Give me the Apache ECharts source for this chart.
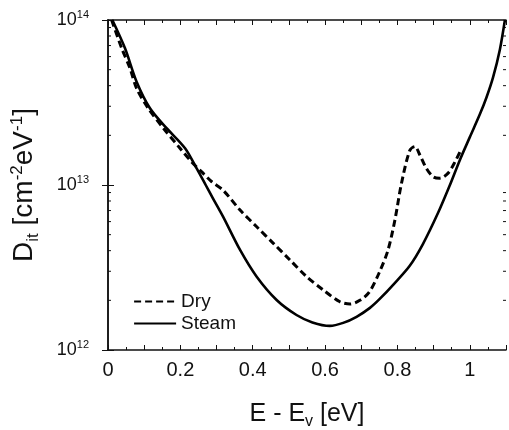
<!DOCTYPE html>
<html>
<head>
<meta charset="utf-8">
<script src="https://cdn.jsdelivr.net/npm/echarts@6/dist/echarts.min.js"></script>
<style>
  html, body { margin: 0; padding: 0; background: #fff; }
  #chart { width: 509px; height: 430px; }
</style>
</head>
<body>
<div id="chart"></div>
<script>
// Interface trap density vs. energy above the valence band edge
const seriesNames = ['Dry', 'Steam'];

const energyDry = [0.010, 0.038, 0.061, 0.079, 0.111, 0.153, 0.199, 0.231, 0.259, 0.286, 0.318, 0.365, 0.411, 0.457, 0.503, 0.549, 0.595, 0.641, 0.669, 0.696, 0.722, 0.751, 0.774, 0.793, 0.811, 0.834, 0.848, 0.862, 0.880, 0.899, 0.917, 0.940, 0.959, 0.977];
const ditDry = [1.0e14, 6.73e13, 5.09e13, 3.85e13, 2.92e13, 2.21e13, 1.67e13, 1.38e13, 1.2e13, 1.05e13, 9.3e12, 7.05e12, 5.58e12, 4.43e12, 3.51e12, 2.78e12, 2.31e12, 1.96e12, 1.9e12, 2.0e12, 2.24e12, 2.99e12, 4.04e12, 6.14e12, 1.02e13, 1.62e13, 1.71e13, 1.52e13, 1.26e13, 1.12e13, 1.1e13, 1.18e13, 1.38e13, 1.66e13];

const energySteam = [0.012, 0.047, 0.079, 0.116, 0.162, 0.213, 0.245, 0.27, 0.29, 0.318, 0.365, 0.411, 0.466, 0.521, 0.565, 0.613, 0.65, 0.687, 0.724, 0.751, 0.79, 0.834, 0.87, 0.912, 0.945, 0.972, 1.0, 1.028, 1.046, 1.064, 1.083, 1.097];
const ditSteam = [1.0e14, 6.74e13, 4.23e13, 2.92e13, 2.21e13, 1.67e13, 1.26e13, 1.0e13, 8.3e12, 6.43e12, 4.04e12, 2.78e12, 2.01e12, 1.63e12, 1.47e12, 1.4e12, 1.46e12, 1.59e12, 1.8e12, 2.04e12, 2.51e12, 3.24e12, 4.37e12, 6.76e12, 1.0e13, 1.41e13, 1.95e13, 2.69e13, 3.39e13, 4.47e13, 6.61e13, 1.0e14];

// Axis ranges and tick labels
const xMin = 0, xMax = 1.1, xStep = 0.1;
const yMin = 1e12, yMax = 1e14;
const xLabelValues = [0, 0.2, 0.4, 0.6, 0.8, 1];

// Minor decade ticks (2..9 x 10^n) for the log axis
const logMinor = [];
for (let e = 12; e < 14; e++) {
  for (let m = 2; m <= 9; m++) logMinor.push(m * Math.pow(10, e));
}

const FONT = '"Liberation Sans", Arial, Helvetica, sans-serif';
const INK = '#111';

function zip(xs, ys) { return xs.map((x, i) => [x, ys[i]]); }

const chart = echarts.init(document.getElementById('chart'), null, { renderer: 'canvas' });

const baseX = {
  type: 'value', min: xMin, max: xMax, interval: xStep,
  axisLine: { show: true, onZero: false, lineStyle: { color: INK, width: 1.5 } },
  axisTick: { show: true, inside: true, length: 5, lineStyle: { color: INK, width: 1 } },
  minorTick: { show: true, splitNumber: 2, length: 3, lineStyle: { color: INK, width: 1 } },
  splitLine: { show: false }
};
const baseY = {
  type: 'log', logBase: 10, min: yMin, max: yMax,
  axisLine: { show: true, lineStyle: { color: INK, width: 1.5 } },
  axisTick: { show: true, inside: true, length: 6, lineStyle: { color: INK, width: 1 } },
  splitLine: { show: false }
};

const option = {
  backgroundColor: '#fff',
  animation: false,
  textStyle: { fontFamily: FONT, color: INK },
  grid: { left: 108, right: 3, top: 20, bottom: 80, containLabel: false, outerBoundsMode: 'none' },
  legend: {
    data: seriesNames,
    orient: 'vertical',
    left: 133, top: 292, padding: 0,
    itemWidth: 42, itemHeight: 12, itemGap: 3,
    itemStyle: { opacity: 0 },
    lineStyle: { width: 2.2 },
    textStyle: { fontFamily: FONT, fontSize: 19, color: INK }
  },
  xAxis: [
    Object.assign({}, baseX, {
      position: 'bottom',
      axisLabel: {
        show: true, margin: 10, fontSize: 20, fontFamily: FONT, color: INK,
        formatter: v => xLabelValues.some(t => Math.abs(t - v) < 1e-6) ? String(+v.toFixed(1)) : ''
      },
      name: '{t|E - E}{s|v}{t| [eV]}',
      nameLocation: 'middle', nameGap: 48,
      nameTextStyle: {
        rich: {
          t: { fontSize: 25, fontFamily: FONT, color: INK },
          s: { fontSize: 16, fontFamily: FONT, color: INK, padding: [16, 0, 0, 0] }
        }
      }
    }),
    Object.assign({}, baseX, { position: 'top', axisLabel: { show: false } })
  ],
  yAxis: [
    Object.assign({}, baseY, {
      position: 'left',
      axisLabel: {
        show: true, margin: 19, fontFamily: FONT, color: INK,
        formatter: v => '{b|10}{e|' + Math.round(Math.log10(v)) + '}',
        rich: {
          b: { fontSize: 18, fontFamily: FONT, color: INK },
          e: { fontSize: 11, fontFamily: FONT, color: INK, padding: [0, 0, 10, 0] }
        }
      },
      name: '{t|D}{s|it}{t| [cm}{p|-2}{t|eV}{p|-1}{t|]}',
      nameLocation: 'middle', nameGap: 66, nameRotate: 90,
      nameTextStyle: {
        rich: {
          t: { fontSize: 28, fontFamily: FONT, color: INK },
          s: { fontSize: 17, fontFamily: FONT, color: INK, padding: [18, 0, 0, 0] },
          p: { fontSize: 17, fontFamily: FONT, color: INK, padding: [0, 0, 14, 0] }
        }
      }
    }),
    Object.assign({}, baseY, { position: 'right', axisLabel: { show: false } })
  ],
  series: [
    {
      name: 'Dry', type: 'line', xAxisIndex: 0, yAxisIndex: 0,
      data: zip(energyDry, ditDry),
      smooth: 0.3, showSymbol: false, symbol: 'none',
      lineStyle: { color: '#000', width: 3, type: [7, 4] },
      itemStyle: { color: '#000' },
      z: 3
    },
    {
      name: 'Steam', type: 'line', xAxisIndex: 0, yAxisIndex: 0,
      data: zip(energySteam, ditSteam),
      smooth: 0.3, showSymbol: false, symbol: 'none',
      lineStyle: { color: '#000', width: 2.6, type: 'solid' },
      itemStyle: { color: '#000' },
      z: 4
    },
    {
      // minor log ticks on both vertical frame edges
      type: 'custom', xAxisIndex: 0, yAxisIndex: 0,
      silent: true, legendHoverLink: false,
      data: logMinor.map(v => [xMin, v]),
      renderItem: function (params, api) {
        const v = api.value(1);
        const l = api.coord([xMin, v]);
        const r = api.coord([xMax, v]);
        const st = { stroke: INK, lineWidth: 1 };
        return {
          type: 'group',
          children: [
            { type: 'line', shape: { x1: l[0], y1: l[1], x2: l[0] + 3, y2: l[1] }, style: st },
            { type: 'line', shape: { x1: r[0], y1: r[1], x2: r[0] - 3, y2: r[1] }, style: st }
          ]
        };
      },
      z: 2
    }
  ]
};

chart.setOption(option);
</script>
</body>
</html>
